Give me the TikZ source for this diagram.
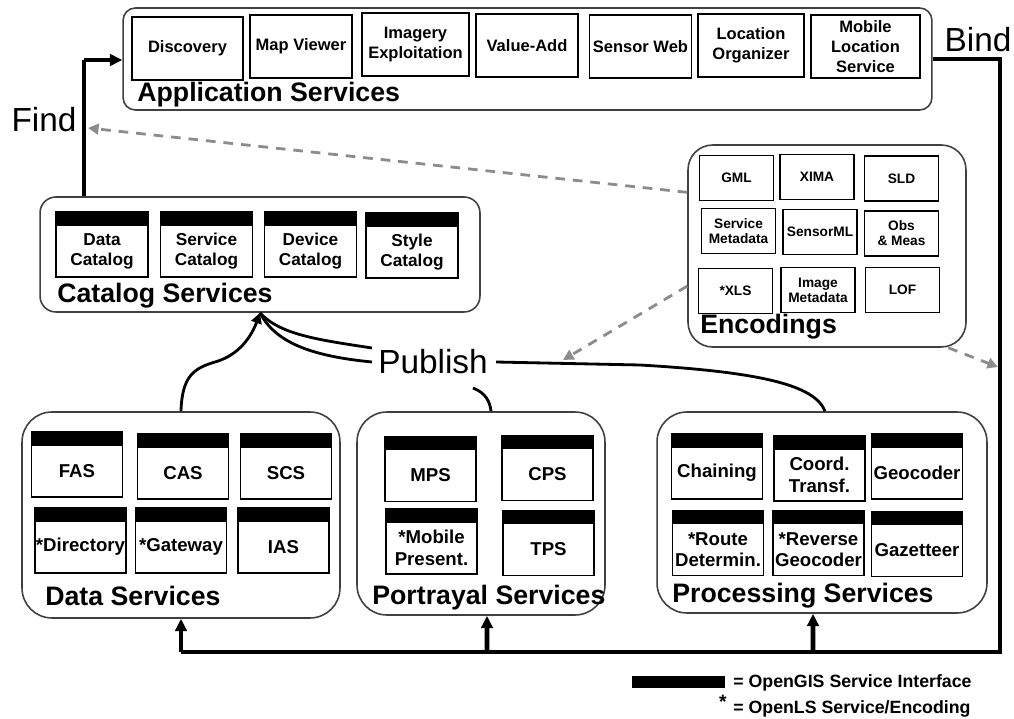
\documentclass[tikz,border=0pt]{standalone}
\usepackage{fontspec}
\setmainfont{Liberation Sans}
\usetikzlibrary{arrows.meta}

\begin{document}
\begin{tikzpicture}[
            x=0.02cm, y=-0.02cm,
            svcgroup/.style={draw=black!75, line width=0.9pt, rounded corners=#1},
            svcgroup/.default=8pt,
            grouplabel/.style={anchor=base west, inner sep=0pt, font=\fontsize{15.2}{17}\selectfont\bfseries},
            appbox/.style={draw, line width=1pt, minimum height=1.26cm, minimum width=#1, inner sep=0pt, align=center, font=\fontsize{9.4}{11.2}\selectfont\bfseries},
            appbox/.default=2.04cm,
            catbox/.style={draw, line width=1pt, minimum height=1.04cm, minimum width=1.84cm, inner sep=0pt, align=center, font=\fontsize{9.8}{11.4}\selectfont\bfseries},
            encbox/.style={draw, line width=1pt, minimum height=0.9cm, minimum width=1.48cm, inner sep=0pt, align=center, font=\fontsize{7.8}{8.6}\selectfont\bfseries},
            svcbox/.style={draw, line width=1pt, minimum height=1.04cm, minimum width=1.82cm, inner sep=0pt, align=center, font=\fontsize{10.6}{12.2}\selectfont\bfseries},
            bigword/.style={inner sep=0pt, font=\fontsize{19}{21}\selectfont},
            iface/.style={line width=2.6pt},
            ifarrow/.style={iface, -{Triangle[length=7pt,width=6.5pt]}},
            pub/.style={line width=1.6pt},
            enclink/.style={draw=black!45, line width=1.6pt, dash pattern=on 5.5pt off 4.5pt, -{Triangle[length=6pt,width=6pt]}},
            legtext/.style={anchor=west, inner sep=0pt, font=\fontsize{10.1}{11}\selectfont\bfseries}
        ]
            \useasboundingbox[fill=white] (0,0) rectangle (1014,719);

            % --- APPLICATION SERVICES ---
            \node[svcgroup=7pt, minimum width=16.18cm, minimum height=2.04cm] (app) at (527.5,59) {};
            \node[grouplabel] (applabel) at (137,102) {Application Services};
            \node[appbox=2.22cm] (disc) at (187.5,48.5) {Discovery};
            \node[appbox] (mapv) at (301,46.5) {Map Viewer};
            \node[appbox=2.14cm] (imgx) at (415.5,44.5) {Imagery\\Exploitation};
            \node[appbox] (vadd) at (527,45.5) {Value-Add};
            \node[appbox] (swb) at (640.5,46.5) {Sensor Web};
            \node[appbox=2.12cm] (lorg) at (751,45.5) {Location\\Organizer};
            \node[appbox=2.18cm] (mls) at (865.5,46.5) {Mobile\\Location\\Service};

            % --- CATALOG SERVICES ---
            \node[svcgroup=9pt, minimum width=8.8cm, minimum height=2.3cm] (cat) at (260,254.5) {};
            \node[grouplabel] (catlabel) at (57,303) {Catalog Services};
            \node[catbox] (dcat) at (102,251) {Data\\Catalog};
            \node[catbox] (scat) at (206.5,251) {Service\\Catalog};
            \node[catbox] (devcat) at (310.5,251) {Device\\Catalog};
            \node[catbox] (stcat) at (412,252) {Style\\Catalog};

            % --- ENCODINGS ---
            \node[svcgroup=14pt, minimum width=5.56cm, minimum height=4.04cm] (enc) at (827,246) {};
            \node[grouplabel] (enclabel) at (700,334) {Encodings};
            \node[encbox] (gml) at (736.5,178) {GML};
            \node[encbox] (xima) at (817,177) {XIMA};
            \node[encbox] (sld) at (901.5,178.5) {SLD};
            \node[encbox] (smeta) at (738.5,231) {Service\\Metadata};
            \node[encbox] (sml) at (820,232) {SensorML};
            \node[encbox] (obs) at (901.5,233.5) {Obs\\\& Meas};
            \node[encbox] (xls) at (735.5,291) {*XLS};
            \node[encbox] (imeta) at (818,290) {Image\\Metadata};
            \node[encbox] (lof) at (902.5,290) {LOF};

            % --- DATA SERVICES ---
            \node[svcgroup=17pt, minimum width=6.36cm, minimum height=4.12cm] (data) at (181,515) {};
            \node[grouplabel] (datalabel) at (45,605) {Data Services};
            \node[svcbox] (fas) at (77,471) {FAS};
            \node[svcbox] (cas) at (183,473) {CAS};
            \node[svcbox] (scs) at (286,473) {SCS};
            \node[svcbox] (dir) at (80.5,547) {*Directory};
            \node[svcbox] (gate) at (181,547) {*Gateway};
            \node[svcbox] (ias) at (283.5,547) {IAS};

            % --- PORTRAYAL SERVICES ---
            \node[svcgroup=17pt, minimum width=4.96cm, minimum height=4.06cm] (port) at (481,513.5) {};
            \node[grouplabel] (portlabel) at (372,604) {Portrayal Services};
            \node[svcbox] (mps) at (430.5,475.5) {MPS};
            \node[svcbox] (cps) at (547.5,474.5) {CPS};
            \node[svcbox] (mobp) at (431.5,548) {*Mobile\\Present.};
            \node[svcbox] (tps) at (548.5,549.5) {TPS};

            % --- PROCESSING SERVICES ---
            \node[svcgroup=17pt, minimum width=6.6cm, minimum height=4.02cm] (proc) at (822,512.5) {};
            \node[grouplabel] (proclabel) at (672,602) {Processing Services};
            \node[svcbox] (chain) at (717,473) {Chaining};
            \node[svcbox] (coord) at (819.5,475) {Coord.\\Transf.};
            \node[svcbox] (geoc) at (917,473) {Geocoder};
            \node[svcbox] (route) at (718,549.5) {*Route\\Determin.};
            \node[svcbox] (rgeo) at (818.5,549.5) {*Reverse\\Geocoder};
            \node[svcbox] (gaz) at (917,550.5) {Gazetteer};

            % black interface bars on top of the service boxes
            \foreach \n in {dcat,scat,devcat,stcat,fas,cas,scs,dir,gate,ias,mps,cps,mobp,tps,chain,coord,geoc,route,rgeo,gaz}
                \fill ([yshift=0.26cm]\n.north west) rectangle (\n.north east);

            % --- FIND ---
            \node[bigword] (find) at (44,120) {Find};
            \coordinate (findc) at (84,60);
            \draw[iface] (cat.north -| findc) -- (findc);
            \draw[ifarrow] (findc) -- (findc -| app.west);

            % --- BIND ---
            \node[bigword] (bind) at (978,40) {Bind};
            \coordinate (bindc) at (1000,652);
            \draw[iface] (app.east) -| (bindc) -- (bindc -| data.south);
            \draw[ifarrow] (bindc -| data.south) -- (data.south);
            \draw[ifarrow] (bindc -| port.south) ++(6,0) -- ([xshift=0.12cm]port.south);
            \draw[ifarrow] (bindc -| proc.south) ++(-9,0) -- ([xshift=-0.18cm]proc.south);

            % --- PUBLISH ---
            \node[bigword] (publish) at (433,362) {Publish};
            \draw[pub, -{Triangle[length=6pt,width=6pt]}] (data.north) .. controls (182,375) and (195,368) .. (215,362)
                .. controls (240,355) and (252,335) .. (cat.south);
            \draw[pub] (publish.west) ++(-6,-14) .. controls (320,340) and (280,335) .. (cat.south);
            \draw[pub] (publish.west) ++(-6,0) .. controls (310,356) and (275,342) .. (cat.south);
            \draw[pub] (publish.east) ++(8,0) -- (640,365) .. controls (760,372) and (815,385) .. ([xshift=0.06cm]proc.north);
            \draw[pub] (473,388) .. controls (486,393) and (490,402) .. ([xshift=0.2cm]port.north);

            % --- ENCODING LINKS (dashed) ---
            \coordinate (findtip) at (88,128);
            \coordinate (pubtip) at (563,360);
            \coordinate (bindtip) at (998,367);
            \draw[enclink] (enc.159) -- (findtip);
            \draw[enclink] (enc.196) -- (pubtip);
            \draw[enclink] (enc.-40) -- (bindtip);

            % --- LEGEND ---
            \node[fill=black, minimum width=1.86cm, minimum height=0.24cm, inner sep=0pt] (legbar) at (678.5,682) {};
            \node[legtext] (legif) at (733,683) {= OpenGIS Service Interface};
            \node[inner sep=0pt, font=\fontsize{11}{12}\selectfont\bfseries] (legstar) at (723,702) {*};
            \node[legtext] (legls) at (733,709) {= OpenLS Service/Encoding};

        \end{tikzpicture}
\end{document}
